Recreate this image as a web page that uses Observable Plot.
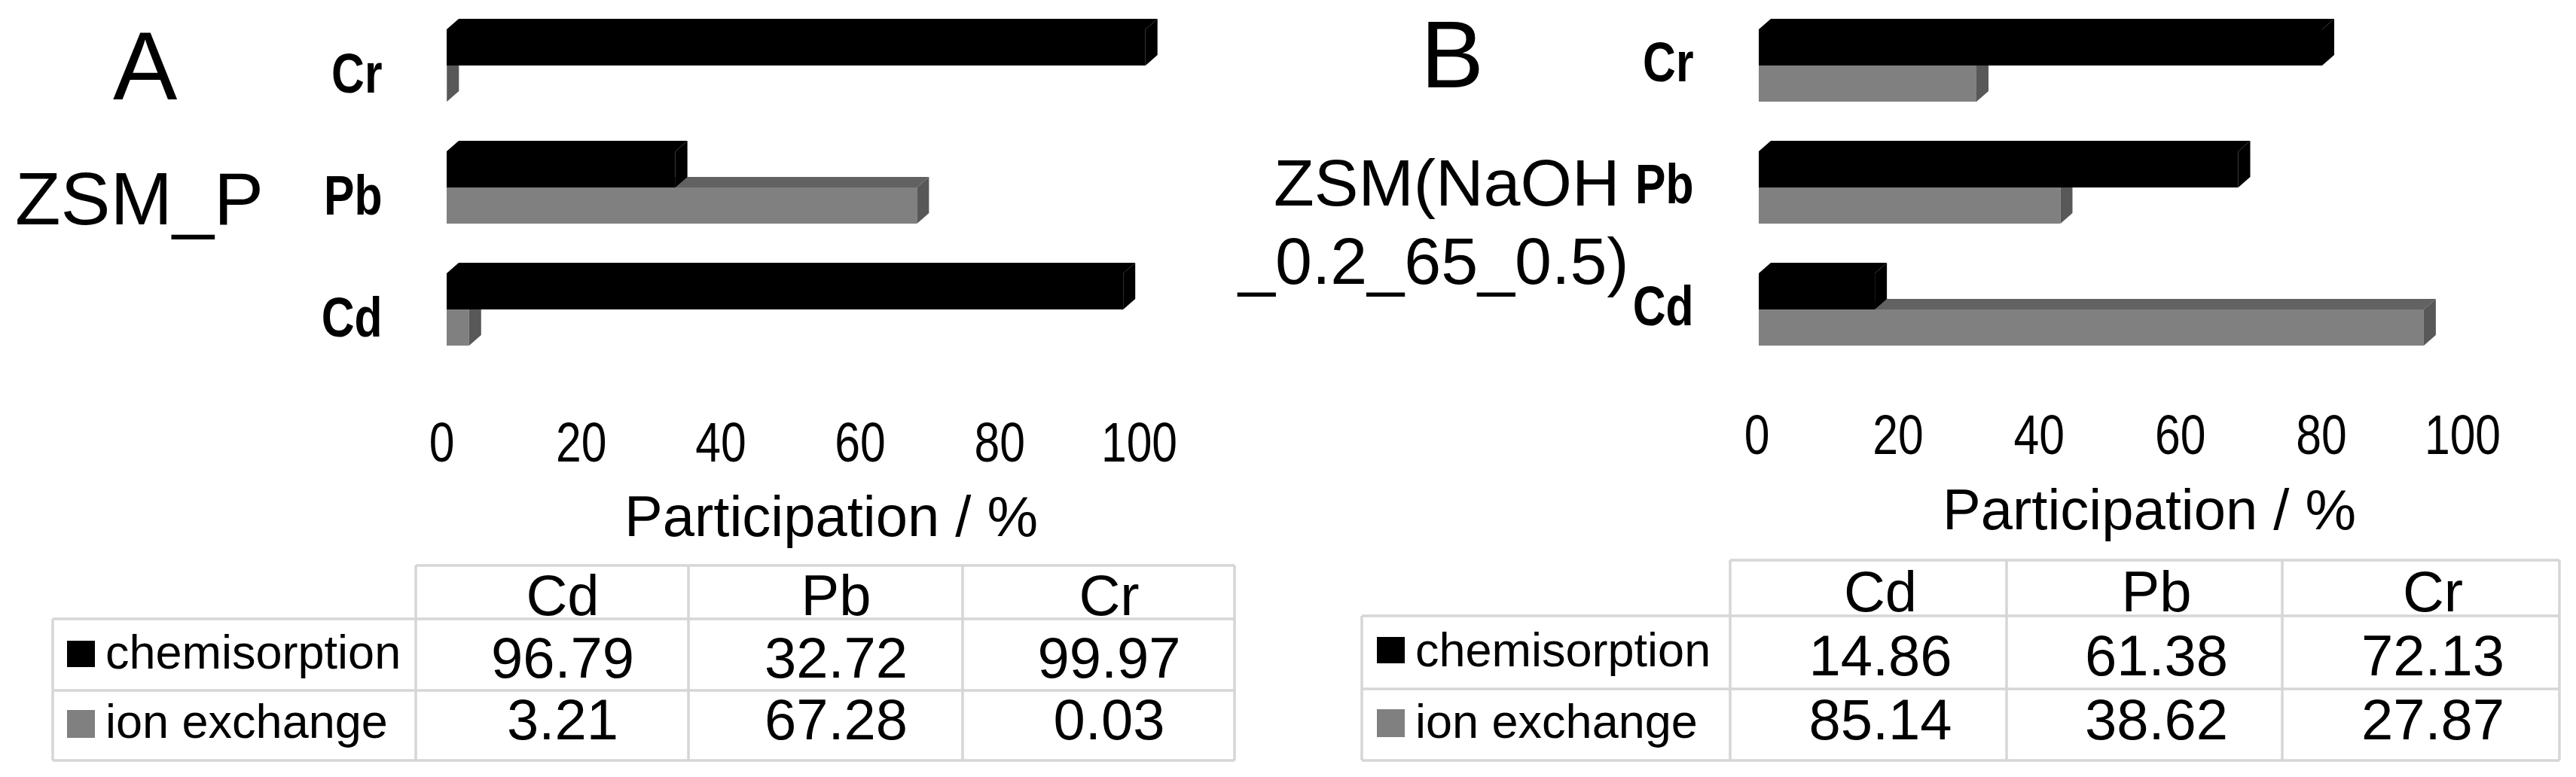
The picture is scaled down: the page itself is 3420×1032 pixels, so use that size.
<!DOCTYPE html>
<html>
<head>
<meta charset="utf-8">
<script src="https://cdn.jsdelivr.net/npm/d3@7"></script>
<script src="https://cdn.jsdelivr.net/npm/@observablehq/plot@0.6"></script>
<style>
html, body { margin: 0; padding: 0; background: #fff; }
#root { position: relative; width: 3420px; height: 1032px; overflow: hidden; background: #fff; }
.layer { position: absolute; }
</style>
</head>
<body>
<div id="root"></div>
<script>
// ---------------- data ----------------
const chartMetals = ["Cr", "Pb", "Cd"];          // top to bottom in the bar charts
const tableMetals = ["Cd", "Pb", "Cr"];          // column order in the tables
const seriesNames = ["chemisorption", "ion exchange"];
const chemisorptionA = [96.79, 32.72, 99.97];    // Cd, Pb, Cr
const ionExchangeA   = [3.21, 67.28, 0.03];
const chemisorptionB = [14.86, 61.38, 72.13];
const ionExchangeB   = [85.14, 38.62, 27.87];
const xTicks = [0, 20, 40, 60, 80, 100];
const panelLetters = ["A", "B"];
const sampleA = ["ZSM_P"];
const sampleB = ["ZSM(NaOH", "_0.2_65_0.5)"];
const axisTitle = "Participation / %";

// ---------------- styling ----------------
const SANS = '"Liberation Sans", Arial, sans-serif';
const CHEM = "#000000", ION = "#808080";
const ION_TOP = "#626262", ION_SIDE = "#585858";
const DX = 16, DY = 14;
const NARROW_SCALE = 0.82;

const root = document.getElementById("root");

function rowsFor(chem, ion) {
  const out = [];
  tableMetals.forEach((m, i) => {
    out.push({metal: m, series: seriesNames[0], value: chem[i]});
    out.push({metal: m, series: seriesNames[1], value: ion[i]});
  });
  return out;
}

function place(el, left, top) {
  const div = document.createElement("div");
  div.className = "layer";
  div.style.left = left + "px";
  div.style.top = top + "px";
  div.appendChild(el);
  root.appendChild(div);
  return div;
}

// narrow look of the original axis font (Arial Narrow)
function condense(svg, s) {
  svg.querySelectorAll('g[aria-label$="tick label"] text').forEach(t => {
    const tr = t.getAttribute("transform");
    if (tr) {
      t.setAttribute("transform", tr + ` scale(${s},1)`);
    } else {
      const x = +(t.getAttribute("x") || 0), y = +(t.getAttribute("y") || 0);
      t.removeAttribute("x"); t.removeAttribute("y");
      t.setAttribute("transform", `translate(${x},${y}) scale(${s},1)`);
    }
  });
}

function add3D(svg) {
  const groups = svg.querySelectorAll('g[aria-label="bar"]');
  groups.forEach((g, gi) => {
    const isChem = gi === 1;
    const topFill = isChem ? CHEM : ION_TOP;
    const sideFill = isChem ? CHEM : ION_SIDE;
    const rects = Array.from(g.querySelectorAll("rect"));
    rects.forEach(r => {
      const x = +r.getAttribute("x"), y = +r.getAttribute("y");
      const w = +r.getAttribute("width"), h = +r.getAttribute("height");
      const parent = r.parentNode;
      const ns = "http://www.w3.org/2000/svg";
      const top = document.createElementNS(ns, "polygon");
      top.setAttribute("points", `${x},${y} ${x + DX},${y - DY} ${x + w + DX},${y - DY} ${x + w},${y}`);
      top.setAttribute("fill", topFill);
      const side = document.createElementNS(ns, "polygon");
      side.setAttribute("points", `${x + w},${y} ${x + w + DX},${y - DY} ${x + w + DX},${y + h - DY} ${x + w},${y + h}`);
      side.setAttribute("fill", sideFill);
      parent.appendChild(top);
      parent.appendChild(side);
    });
  });
}

const STEP = 162, BW = 96, PO = 0.2, PI = 1 - BW / STEP;
const Y0 = 39 - PO * STEP;
const Y1 = Y0 + STEP * (chartMetals.length - PI + 2 * PO);

function barsPanel(chem, ion, cfg) {
  const rows = rowsFor(chem, ion);
  const plot = Plot.plot({
    width: cfg.width,
    height: 500,
    marginLeft: cfg.x0,
    marginRight: cfg.width - cfg.x100,
    marginTop: 0,
    marginBottom: 0,
    style: {background: "transparent", maxWidth: "none", overflow: "visible", color: "#000"},
    x: {domain: [0, 100], axis: null},
    y: {domain: chartMetals, range: [Y0, Y1], paddingInner: PI, paddingOuter: PO, round: false, axis: null},
    marks: [
      Plot.barX(rows.filter(d => d.series === seriesNames[1]), {x: "value", y: "metal", fill: ION, insetTop: BW / 2}),
      Plot.barX(rows.filter(d => d.series === seriesNames[0]), {x: "value", y: "metal", fill: CHEM, insetBottom: BW / 2}),
      Plot.axisY({tickSize: 0, tickPadding: cfg.labelPad, fontSize: 74, fontWeight: "bold",
                  fontFamily: SANS, dy: cfg.labelDy, label: null, fill: "#000"})
    ]
  });
  add3D(plot);
  condense(plot, NARROW_SCALE);
  place(plot, cfg.left, 0);
}

function axisPanel(cfg) {
  const plot = Plot.plot({
    width: cfg.width,
    height: 150,
    marginLeft: cfg.a0,
    marginRight: cfg.width - cfg.a100,
    marginTop: 0,
    marginBottom: cfg.axisMB,
    style: {background: "transparent", maxWidth: "none", overflow: "visible", color: "#000"},
    x: {domain: [0, 100]},
    marks: [
      Plot.axisX({anchor: "bottom", ticks: xTicks, tickSize: 0, tickPadding: 0, fontSize: 74,
                  fontFamily: SANS, label: null, fill: "#000"})
    ]
  });
  condense(plot, NARROW_SCALE);
  place(plot, cfg.left, 500);
}

// panel A
barsPanel(chemisorptionA, ionExchangeA, {left: 0, width: 1710, x0: 593, x100: 1521, labelPad: 86, labelDy: 12});
axisPanel({left: 0, width: 1710, a0: 586, a100: 1512, axisMB: 90});
// panel B (bars drawn longer than the printed axis, as in the original figure)
barsPanel(chemisorptionB, ionExchangeB, {left: 1710, width: 1710, x0: 625, x100: 1662, labelPad: 87, labelDy: -3});
axisPanel({left: 1710, width: 1710, a0: 622, a100: 1559, axisMB: 100});

// ---------------- overlay text & tables ----------------
const svg = d3.create("svg").attr("width", 3420).attr("height", 1032)
  .style("position", "absolute").style("left", "0px").style("top", "0px")
  .style("font-family", SANS);
root.appendChild(svg.node());

function txt(x, y, s, size, anchor = "start", weight = "normal", family = SANS) {
  svg.append("text").attr("x", x).attr("y", y).attr("font-size", size)
    .attr("text-anchor", anchor).attr("font-weight", weight).attr("font-family", family)
    .attr("fill", "#000").text(s);
}

txt(150, 132, panelLetters[0], 128);
txt(20, 298, sampleA[0], 99);
txt(1886, 116, panelLetters[1], 126);
txt(1691, 273, sampleB[0], 88);
txt(1644, 377, sampleB[1], 88);
txt(829, 712, axisTitle, 76);
txt(2579, 703, axisTitle, 76);

const fmt = d3.format(".2f");
function table(cfg, chem, ion) {
  const [c0, c1, c2, c3, c4] = cfg.cols;
  const [r0, r1, r2, r3] = cfg.rows;
  const g = svg.append("g").attr("stroke", "#d6d6d6").attr("stroke-width", 3.5);
  g.append("line").attr("x1", c1).attr("x2", c4).attr("y1", r0).attr("y2", r0);
  [r1, r2, r3].forEach(r => g.append("line").attr("x1", c0).attr("x2", c4).attr("y1", r).attr("y2", r));
  g.append("line").attr("x1", c0).attr("x2", c0).attr("y1", r1).attr("y2", r3);
  [c1, c2, c3, c4].forEach(c => g.append("line").attr("x1", c).attr("x2", c).attr("y1", r0).attr("y2", r3));
  const centers = [(c1 + c2) / 2, (c2 + c3) / 2, (c3 + c4) / 2].map(c => c + cfg.off);
  tableMetals.forEach((m, i) => {
    txt(centers[i], cfg.hb, m, 76, "middle");
    txt(centers[i], cfg.vb1, fmt(chem[i]), 76, "middle");
    txt(centers[i], cfg.vb2, fmt(ion[i]), 76, "middle");
  });
  svg.append("rect").attr("x", cfg.sq).attr("y", cfg.sy1).attr("width", 37).attr("height", 35).attr("fill", CHEM);
  svg.append("rect").attr("x", cfg.sq).attr("y", cfg.sy2).attr("width", 37).attr("height", 37).attr("fill", ION);
  txt(cfg.lx, cfg.lb1, seriesNames[0], 63);
  txt(cfg.lx, cfg.lb2, seriesNames[1], 63);
}

table({cols: [70, 552, 914, 1278, 1639], rows: [751, 822, 917, 1010], off: 14,
       hb: 817, vb1: 900, vb2: 982, sq: 89, sy1: 851, sy2: 943, lx: 140, lb1: 888, lb2: 980},
      chemisorptionA, ionExchangeA);
table({cols: [1808, 2297, 2664, 3030, 3398], rows: [744, 818, 915, 1010], off: 16,
       hb: 812, vb1: 897, vb2: 982, sq: 1828, sy1: 846, sy2: 942, lx: 1879, lb1: 885, lb2: 980},
      chemisorptionB, ionExchangeB);
</script>
</body>
</html>
